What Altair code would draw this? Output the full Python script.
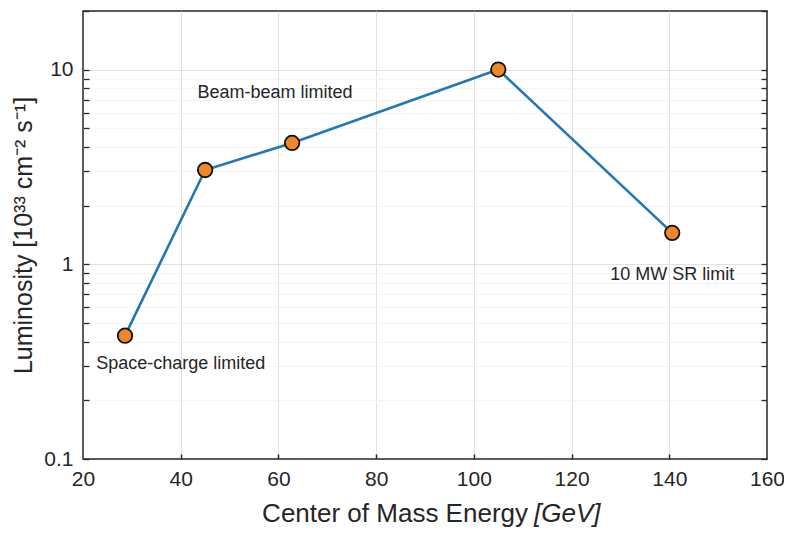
import altair as alt
import pandas as pd

# ---- data ----
energy = [28.6, 45.0, 62.8, 105.0, 140.6]
luminosity = [0.43, 3.05, 4.2, 10.0, 1.45]

note_text = ["Beam-beam limited", "Space-charge limited", "10 MW SR limit"]
note_x = [59.3, 40.0, 140.6]
note_y = [7.6, 0.306, 0.878]

x_ticks = [20, 40, 60, 80, 100, 120, 140, 160]
x_inner = [40, 60, 80, 100, 120, 140]
y_major = [0.1, 1, 10]
y_minor = [0.2, 0.3, 0.4, 0.5, 0.6, 0.7, 0.8, 0.9, 2, 3, 4, 5, 6, 7, 8, 9]
y_all = y_major + y_minor + [20]

x_title = "Center of Mass Energy"
x_unit = "[GeV]"
y_title = "Luminosity [10³³ cm⁻² s⁻¹]"

W, H = 684, 448
FONT = "Liberation Sans"
INK = "#262626"
GRID = "#e2e2e2"
GRID_MINOR = "#f3f3f3"

df = pd.DataFrame({"E": energy, "L": luminosity})
notes = pd.DataFrame({"t": note_text, "E": note_x, "L": note_y})

xs = alt.Scale(domain=[20, 160], nice=False, zero=False)
ys = alt.Scale(type="log", domain=[0.1, 20], nice=False)

base = alt.Chart(df)


def xy(xaxis, yaxis):
    return dict(
        x=alt.X("E:Q", scale=xs, axis=xaxis),
        y=alt.Y("L:Q", scale=ys, axis=yaxis),
    )


hidden = dict(opacity=0, size=1)
bare = dict(labels=False, ticks=False, domain=False, title=None)

# grids
grid_layer = base.mark_point(**hidden).encode(**xy(
    alt.Axis(orient="bottom", values=x_inner, grid=True, gridColor=GRID, gridWidth=1, **bare),
    alt.Axis(orient="left", values=[1, 10], grid=True, gridColor=GRID, gridWidth=1, **bare),
))
minor_grid = base.mark_point(**hidden).encode(**xy(
    None,
    alt.Axis(orient="left", values=y_minor, grid=True, gridColor=GRID_MINOR, gridWidth=1, **bare),
))

# labels + y title
label_layer = base.mark_point(**hidden).encode(**xy(
    alt.Axis(orient="bottom", values=x_ticks, grid=False, ticks=False, domain=False,
             labelFontSize=21, labelFont=FONT, labelColor=INK, labelPadding=9,
             title=None, labelFlush=False),
    alt.Axis(orient="left", values=y_major, format="~g", grid=False, ticks=False, domain=False,
             labelFontSize=21, labelFont=FONT, labelColor=INK, labelPadding=10,
             title=y_title, titleFontSize=25, titleFont=FONT, titleColor=INK,
             titleFontWeight="normal", titlePadding=7),
))

# inward ticks (axes flipped and shifted across the plot)
tick_left = base.mark_point(**hidden).encode(**xy(
    None,
    alt.Axis(orient="right", offset=-W, values=y_all, ticks=True, tickSize=6, tickWidth=1.3,
             tickColor=INK, labels=False, domain=False, grid=False, title=None),
))
tick_right = base.mark_point(**hidden).encode(**xy(
    None,
    alt.Axis(orient="left", offset=-W, values=y_all, ticks=True, tickSize=6, tickWidth=1.3,
             tickColor=INK, labels=False, domain=False, grid=False, title=None),
))
tick_bottom = base.mark_point(**hidden).encode(**xy(
    alt.Axis(orient="top", offset=-H, values=x_inner, ticks=True, tickSize=5, tickWidth=1.5,
             tickColor=INK, labels=False, domain=False, grid=False, title=None),
    None,
))

line = base.mark_line(color="#2277b6", strokeWidth=2.6).encode(**xy(None, None))
points = base.mark_point(filled=True, shape="circle", size=210, fill="#f0862a",
                         stroke="#111111", strokeWidth=1.8, opacity=1).encode(**xy(None, None))

text_notes = alt.Chart(notes).mark_text(font=FONT, fontSize=18, color=INK,
                                        baseline="middle", align="center").encode(
    x=alt.X("E:Q", scale=xs, axis=None),
    y=alt.Y("L:Q", scale=ys, axis=None),
    text="t:N",
)

title_df = pd.DataFrame({"a": [x_title], "b": [x_unit]})
xt1 = alt.Chart(title_df).mark_text(font=FONT, fontSize=26, color=INK, align="right",
                                    baseline="alphabetic").encode(
    x=alt.value(445), y=alt.value(511), text="a:N")
xt2 = alt.Chart(title_df).mark_text(font=FONT, fontSize=26, color=INK, align="left",
                                    baseline="alphabetic", fontStyle="italic").encode(
    x=alt.value(451), y=alt.value(511), text="b:N")

chart = alt.layer(
    grid_layer, minor_grid, label_layer, tick_left, tick_right, tick_bottom,
    line, points, text_notes, xt1, xt2,
).resolve_axis(x="independent", y="independent").properties(
    width=W, height=H,
    autosize=alt.AutoSizeParams(type="none"),
    padding={"left": 75, "top": 3, "right": 17, "bottom": 84},
    background="white",
).configure_view(stroke=INK, strokeWidth=1.5)

chart.save("out.html", embed_options={"renderer": "svg", "actions": False})
